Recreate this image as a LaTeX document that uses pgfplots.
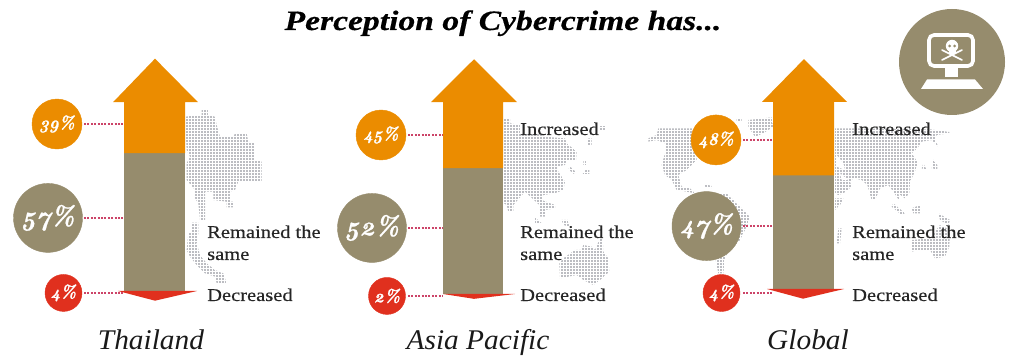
\documentclass[border=0pt]{standalone}
\usepackage{fontspec}
\usepackage{pgfplots}
\pgfplotsset{compat=1.18}
\usetikzlibrary{patterns}
\setmainfont{Liberation Serif}
\newfontfamily\labelfont[FakeStretch=1.14,FakeBold=0.35]{Liberation Serif}
\newfontfamily\regionfont[FakeStretch=1.03]{Liberation Serif}
\newfontfamily\titlefont[FakeStretch=1.2,FakeBold=0.5]{Liberation Serif}
\newfontfamily\numfont[Numbers=OldStyle,FakeStretch=0.93,FakeBold=0.9]{Latin Modern Roman}

\definecolor{rise}{HTML}{EB8C00}
\definecolor{same}{HTML}{968C6D}
\definecolor{fall}{HTML}{E0301E}
\definecolor{leader}{HTML}{CC4468}
\definecolor{mapdot}{HTML}{BCBDC2}

% dot matrix used for the background maps
\pgfdeclarepatternformonly{mapdots}{\pgfqpoint{0pt}{0pt}}{\pgfqpoint{2.2pt}{2.2pt}}{\pgfqpoint{3pt}{3pt}}{%
  \pgfpathrectangle{\pgfqpoint{0pt}{0pt}}{\pgfqpoint{2.2pt}{2.2pt}}\pgfusepath{fill}}

\tikzset{
  land/.style={pattern=mapdots,pattern color=mapdot},
  sheet/.style={shift={(0pt,358pt)},x=1pt,y=-1pt},
  rowtext/.style={anchor=base west,inner sep=0pt,text=black!85,font=\labelfont\fontsize{18}{18}\selectfont},
  regionname/.style={anchor=base,inner sep=0pt,text=black!90,font=\regionfont\itshape\fontsize{28.5}{28.5}\selectfont},
}
\pgfplotsset{
  panel/.style={hide axis,clip=false,x=1pt,y=2.42pt,xmin=0,xmax=1009,ymin=-10,ymax=100,anchor=origin},
  part/.style={draw=none,fill=#1,forget plot},
  dots/.style={leader,line width=1.8pt,dash pattern=on 2pt off 1.4pt,forget plot},
  % value disc: colour, radius, font size, label
  disc/.style n args={4}{only marks,mark=*,mark size=#2pt,mark options={fill=#1,draw=#1},forget plot,
    nodes near coords={#4},
    every node near coord/.style={anchor=center,inner sep=0pt,text=white,
      font=\numfont\bfseries\itshape\fontsize{#3}{#3}\selectfont}},
}

\begin{document}
\begin{tikzpicture}
\useasboundingbox (0pt,0pt) rectangle (1009pt,358pt);

% ---- dot-matrix maps ----
\begin{scope}[sheet]
  % Thailand
  \begin{scope}[shift={(180,100)},x=0.3333pt,y=-0.3333pt]
    \fill[land] (65,28)--(85,28)--(85,45)--(105,50)--(110,75)--(120,110)--(160,110)--(165,100)--(200,100)--(205,125)--(225,130)--(225,180)--(245,185)--(245,245)--(175,245)--(165,270)--(150,275)--(150,305)--(160,305)--(160,322)--(140,322)--(140,305)--(100,300)--(100,275)--(75,275)--(75,360)--(60,360)--(55,310)--(45,295)--(45,270)--(20,240)--(20,190)--(30,170)--(20,150)--(15,50)--(65,45)--cycle;
    \fill[land] (35,368)--(55,368)--(55,400)--(50,430)--(60,465)--(80,490)--(105,510)--(130,520)--(140,550)--(110,550)--(105,530)--(75,520)--(50,495)--(30,470)--(20,450)--(25,400)--(35,395)--cycle;
  \end{scope}
  % Asia Pacific
  \begin{scope}[shift={(500,110)},x=0.3333pt,y=-0.3333pt]
    \fill[land] (12,25)--(30,25)--(30,40)--(60,45)--(60,70)--(130,70)--(130,80)--(195,85)--(200,100)--(230,125)--(228,150)--(200,150)--(195,165)--(170,170)--(175,185)--(195,215)--(190,240)--(165,250)--(130,255)--(125,270)--(165,285)--(165,295)--(135,300)--(135,320)--(118,320)--(118,285)--(75,245)--(40,285)--(40,305)--(25,305)--(20,285)--(12,280)--cycle;
    \fill[land] (265,85)--(275,85)--(275,108)--(262,108)--cycle;
    \fill[land] (250,155)--(258,155)--(258,165)--(250,165)--cycle;
    \fill[land] (210,170)--(228,185)--(222,192)--(205,178)--cycle;
    \fill[land] (258,178)--(268,178)--(268,192)--(248,192)--cycle;
    \fill[land] (300,50)--(318,50)--(318,60)--(300,60)--cycle;
    \fill[land] (105,322)--(125,340)--(105,342)--cycle;
    \fill[land] (185,330)--(205,330)--(208,350)--(190,345)--cycle;
    \fill[land] (190,445)--(225,420)--(245,420)--(250,405)--(275,410)--(285,420)--(300,385)--(308,385)--(310,425)--(325,445)--(328,485)--(300,510)--(280,525)--(250,510)--(230,495)--(180,505)--(178,460)--cycle;
  \end{scope}
  % World, western half
  \begin{scope}[shift={(640,110)},x=0.3333pt,y=-0.3333pt]
    \fill[land] (25,85)--(50,75)--(55,55)--(160,55)--(170,150)--(140,180)--(115,195)--(125,230)--(150,235)--(165,250)--(140,245)--(110,240)--(95,210)--(75,195)--(65,165)--(75,130)--(75,100)--(50,90)--(25,95)--cycle;
    \fill[land] (325,30)--(395,22)--(400,50)--(385,60)--(370,70)--(345,80)--(335,65)--(325,50)--cycle;
    \fill[land] (290,25)--(305,25)--(305,32)--(290,32)--cycle;
    \fill[land] (195,222)--(215,228)--(213,235)--(195,230)--cycle;
    \fill[land] (170,250)--(260,250)--(330,320)--(320,350)--(300,390)--(255,440)--(250,490)--(235,490)--(225,440)--(180,380)--cycle;
  \end{scope}
  % World, eastern half
  \begin{scope}[shift={(830,110)},x=0.3333pt,y=-0.3333pt]
    \fill[land] (15,55)--(60,55)--(300,58)--(358,66)--(358,70)--(320,75)--(315,90)--(325,110)--(305,90)--(275,95)--(262,115)--(245,130)--(265,160)--(250,195)--(240,215)--(238,250)--(225,265)--(205,250)--(210,275)--(190,245)--(175,225)--(150,235)--(135,270)--(125,270)--(112,225)--(95,210)--(70,205)--(60,215)--(65,230)--(40,250)--(25,255)--(15,250)--cycle;
    \fill[white] (20,135)--(40,160)--(45,180)--(20,170)--cycle;
    \fill[white] (30,190)--(55,210)--(35,210)--cycle;
    \fill[land] (15,265)--(40,265)--(30,285)--(15,300)--cycle;
    \fill[land] (310,150)--(322,165)--(322,178)--(305,175)--cycle;
    \fill[land] (280,160)--(290,180)--(275,175)--cycle;
    \fill[land] (190,280)--(225,310)--(215,315)--(185,290)--cycle;
    \fill[land] (245,295)--(270,285)--(272,310)--(250,310)--cycle;
    \fill[land] (325,310)--(360,330)--(355,345)--(330,330)--cycle;
    \fill[land] (25,355)--(35,355)--(30,400)--(20,400)--cycle;
    \fill[land] (245,390)--(300,385)--(330,345)--(360,360)--(358,410)--(345,440)--(315,445)--(300,420)--(265,420)--(245,425)--cycle;
  \end{scope}
\end{scope}

% ---- Thailand: 39 / 57 / 4 ----
\begin{axis}[panel,at={(0pt,67pt)}]
  \addplot[part=same] coordinates {(124,0)(124,57)(185,57)(185,0)} --cycle;
  \addplot[part=rise] coordinates {(124,57)(124,78)(113,78)(155,96)(198,78)(185,78)(185,57)} --cycle;
  \addplot[part=fall] coordinates {(118,0)(155,-4)(197,0)} --cycle;
  \addplot[dots] coordinates {(84,69)(124,69)};
  \addplot[dots] coordinates {(84,30.2)(124,30.2)};
  \addplot[dots] coordinates {(84,-0.8)(124,-0.8)};
  \addplot[disc={rise}{25}{18}{39\%}] coordinates {(57,69)};
  \addplot[disc={same}{34.5}{27}{57\%}] coordinates {(48,30.2)};
  \addplot[disc={fall}{18.5}{18}{4\%}] coordinates {(63.5,-0.8)};
\end{axis}

% ---- Asia Pacific: 45 / 52 / 2 ----
\begin{axis}[panel,at={(0pt,64pt)}]
  \addplot[part=same] coordinates {(443,0)(443,52)(503,52)(503,0)} --cycle;
  \addplot[part=rise] coordinates {(443,52)(443,79.3)(431,79.3)(474,97)(517,79.3)(503,79.3)(503,52)} --cycle;
  \addplot[part=fall] coordinates {(443,0)(474,-2)(515,0)} --cycle;
  \addplot[dots] coordinates {(408,65.7)(443,65.7)};
  \addplot[dots] coordinates {(408,27.3)(443,27.3)};
  \addplot[dots] coordinates {(408,-0.8)(443,-0.8)};
  \addplot[disc={rise}{25}{18}{45\%}] coordinates {(381,65.7)};
  \addplot[disc={same}{34.5}{27}{52\%}] coordinates {(372,27.3)};
  \addplot[disc={fall}{18.5}{18}{2\%}] coordinates {(387,-0.8)};
\end{axis}

% ---- Global: 48 / 47 / 4 ----
\begin{axis}[panel,at={(0pt,69pt)}]
  \addplot[part=same] coordinates {(773,0)(773,47)(834,47)(834,0)} --cycle;
  \addplot[part=rise] coordinates {(773,47)(773,77.3)(762,77.3)(804,95)(847,77.3)(834,77.3)(834,47)} --cycle;
  \addplot[part=fall] coordinates {(767,0)(803,-4)(844,0)} --cycle;
  \addplot[dots] coordinates {(743,61.6)(773,61.6)};
  \addplot[dots] coordinates {(743,26)(773,26)};
  \addplot[dots] coordinates {(743,-1.65)(773,-1.65)};
  \addplot[disc={rise}{25}{18}{48\%}] coordinates {(716,61.6)};
  \addplot[disc={same}{34.5}{27}{47\%}] coordinates {(706.5,26)};
  \addplot[disc={fall}{18.5}{18}{4\%}] coordinates {(721.5,-1.65)};
\end{axis}

% ---- titles, row labels and the monitor badge ----
\begin{scope}[sheet]
  \node[anchor=base,inner sep=0pt,font=\titlefont\bfseries\itshape\fontsize{28}{28}\selectfont] at (503,30) {Perception of Cybercrime has...};

  \node[rowtext] at (207,238) {Remained the};
  \node[rowtext] at (207,260) {same};
  \node[rowtext] at (207,301) {Decreased};
  \node[rowtext] at (520,135) {Increased};
  \node[rowtext] at (520,238) {Remained the};
  \node[rowtext] at (520,260) {same};
  \node[rowtext] at (520,301) {Decreased};
  \node[rowtext] at (852,135) {Increased};
  \node[rowtext] at (852,238) {Remained the};
  \node[rowtext] at (852,260) {same};
  \node[rowtext] at (852,301) {Decreased};

  \node[regionname] at (151,350) {Thailand};
  \node[regionname] at (478,350) {Asia Pacific};
  \node[regionname] at (808,350) {Global};

  \fill[same] (952,62) circle[radius=53];
  \draw[white,line width=3.6pt,rounded corners=5pt] (929,35) rectangle (973,66);
  \fill[white] (945,67) rectangle (958,77);
  \fill[white] (927,79.5) -- (975,79.5) -- (983,89) -- (921,89) -- cycle;
  % skull and crossbones
  \draw[white,line width=1.6pt,line cap=round] (942,50) -- (962,60);
  \draw[white,line width=1.6pt,line cap=round] (962,50) -- (942,60);
  \fill[white] (952,46) circle[radius=6.2];
  \fill[white] (948.5,49) rectangle (955.5,54);
  \fill[same] (949.5,46) circle[radius=1.5];
  \fill[same] (954.5,46) circle[radius=1.5];
\end{scope}
\end{tikzpicture}
\end{document}
